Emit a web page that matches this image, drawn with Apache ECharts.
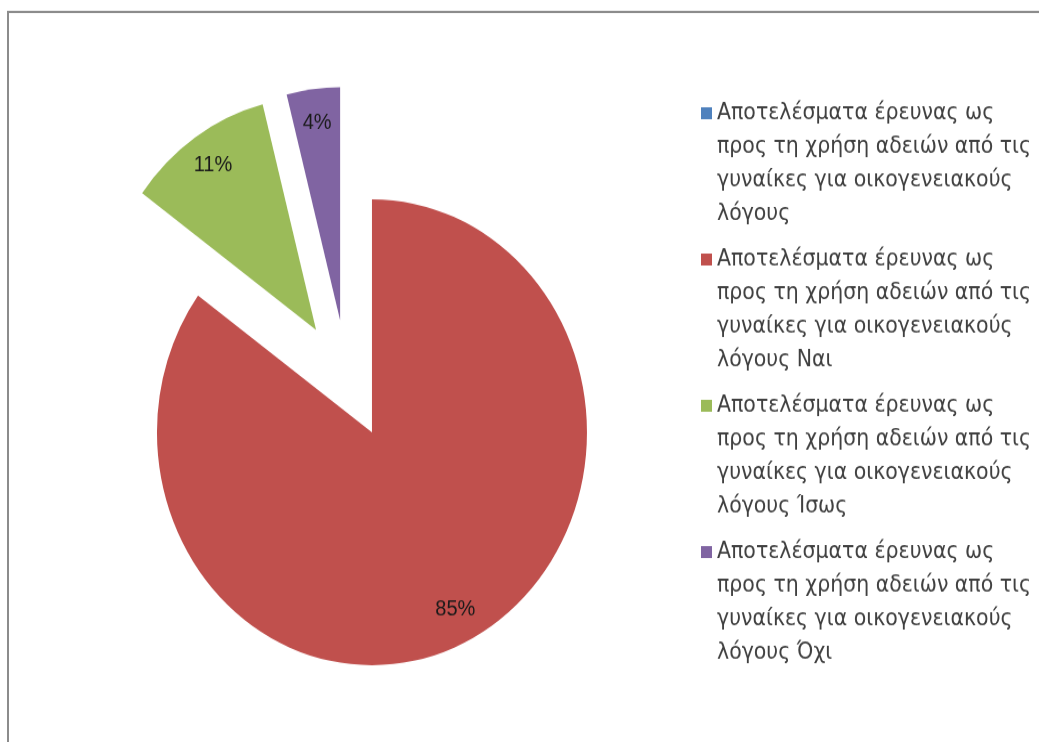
<!DOCTYPE html>
<html>
<head>
<meta charset="utf-8">
<script src="https://cdn.jsdelivr.net/npm/echarts@6/dist/echarts.min.js"></script>
<style>
  html { margin: 0; padding: 0; background: #fff; overflow: hidden; }
  body { margin: 0; padding: 0; background: #fff; width: 1039px; height: 742px; }
  #chart { width: 1039px; height: 685px; transform: scaleY(1.0835); transform-origin: 0 0; }
</style>
</head>
<body>
<div id="chart"></div>
<script>
const categories = [
  'Αποτελέσματα έρευνας ως\nπρος τη χρήση αδειών από τις\nγυναίκες για οικογενειακούς\nλόγους',
  'Αποτελέσματα έρευνας ως\nπρος τη χρήση αδειών από τις\nγυναίκες για οικογενειακούς\nλόγους Ναι',
  'Αποτελέσματα έρευνας ως\nπρος τη χρήση αδειών από τις\nγυναίκες για οικογενειακούς\nλόγους Ίσως',
  'Αποτελέσματα έρευνας ως\nπρος τη χρήση αδειών από τις\nγυναίκες για οικογενειακούς\nλόγους Όχι'
];
const values = [0, 85, 11, 4];
const colors = ['#4F81BD', '#C0504D', '#9BBB59', '#8064A2'];

const chart = echarts.init(document.getElementById('chart'), null, { renderer: 'canvas' });

const mainData = categories.map((name, i) => ({
  name: name,
  value: values[i],
  selected: true,
  itemStyle: { color: colors[i] }
}));
const labelData = categories.map((name, i) => ({
  name: name,
  value: values[i],
  selected: true,
  label: { show: values[i] > 0 }
}));

const pieCommon = {
  type: 'pie',
  center: [347, 350],
  startAngle: 90,
  clockwise: true,
  selectedMode: 'multiple',
  selectedOffset: 55,
  avoidLabelOverlap: false,
  animation: false,
  emphasis: { disabled: true },
  labelLine: { show: false }
};

chart.setOption({
  backgroundColor: '#ffffff',
  color: colors,
  graphic: [{
    type: 'rect',
    shape: { x: 8, y: 11, width: 1200, height: 900 },
    style: { fill: 'none', stroke: '#8c8c8c', lineWidth: 2 },
    silent: true,
    z: 100
  }],
  legend: {
    orient: 'vertical',
    left: 696,
    top: 84,
    itemGap: 11,
    itemWidth: 11,
    itemHeight: 124,
    icon: 'path://M0 10H11V21H0Z M0 0H0.01V0.01H0Z M0 123.99H0.01V124H0Z',
    selectedMode: false,
    textStyle: {
      fontFamily: 'DejaVu Sans',
      fontSize: 20.5,
      lineHeight: 31,
      color: '#404040'
    }
  },
  series: [
    Object.assign({}, pieCommon, {
      name: 'main',
      radius: 215,
      label: { show: false },
      data: mainData
    }),
    Object.assign({}, pieCommon, {
      name: 'labels',
      radius: [146, 215],
      silent: true,
      legendHoverLink: false,
      itemStyle: { color: 'rgba(0,0,0,0)' },
      label: {
        show: true,
        position: 'inside',
        formatter: p => Math.round(p.percent) + '%',
        fontFamily: 'Liberation Sans',
        fontSize: 20,
        color: '#1a1a1a'
      },
      data: labelData
    })
  ]
});
</script>
</body>
</html>
